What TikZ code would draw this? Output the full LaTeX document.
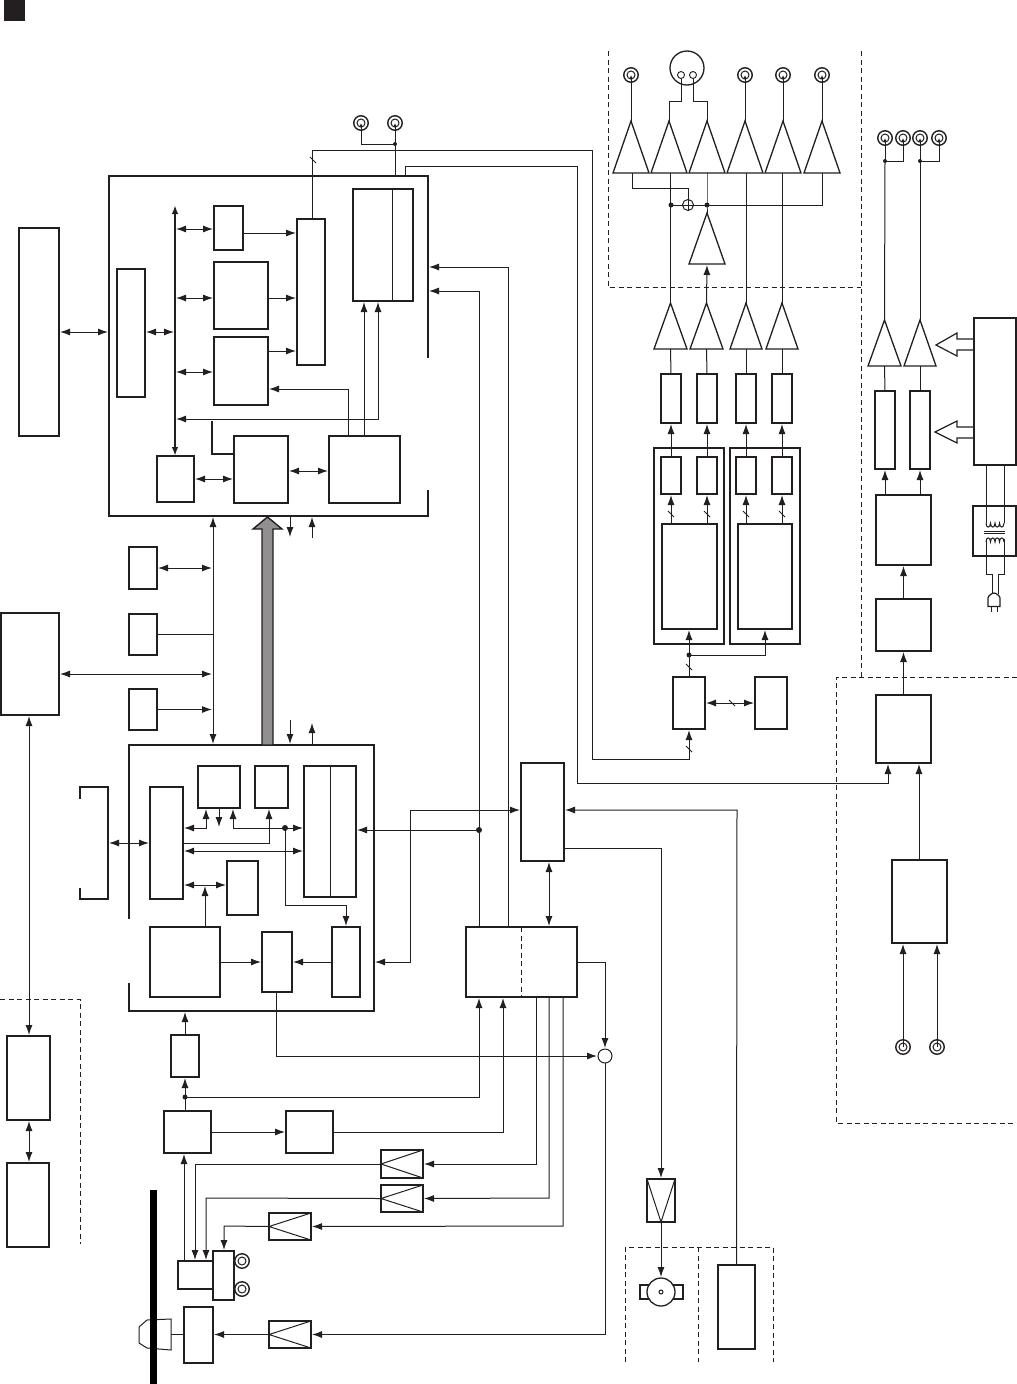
\documentclass[tikz,border=0pt]{standalone}
\usetikzlibrary{arrows.meta}
\definecolor{ink}{HTML}{231F20}
\tikzset{
  ln/.style={line width=1pt,draw=ink},
  ar/.style={ln,-{Latex[length=10pt,width=7pt]},shorten >=1pt},
  ra/.style={ln,{Latex[length=10pt,width=7pt]}-,shorten <=1pt},
  db/.style={ln,{Latex[length=10pt,width=7pt]}-{Latex[length=10pt,width=7pt]},shorten >=1pt,shorten <=1pt},
  tk/.style={draw=ink,line width=1.8pt,inner sep=0pt,outer sep=0pt},
  tn/.style={draw=ink,line width=1.2pt,inner sep=0pt,outer sep=0pt},
  gh/.style={inner sep=0pt,outer sep=0pt},
  dsh/.style={draw=ink,line width=.9pt,dash pattern=on 5pt off 3.5pt},
  outl/.style={draw=ink,line width=2pt,line join=miter},
  dotn/.style={circle,fill=ink,inner sep=0pt,outer sep=0pt,minimum size=5pt},
  jk/.style={circle,draw=ink,line width=1.4pt,inner sep=0pt,outer sep=0pt,minimum size=14.5pt},
  tipsm/.style={ln,-{Latex[length=4pt,width=3.5pt]}},
  tri/.style={draw=ink,line width=1.3pt,line join=miter},
}
\newcommand{\mybox}[6][tk]{\node[#1,minimum width={(#5-#3)*1pt},minimum height={(#6-#4)*1pt}] (#2) at ({(#3+#5)/2},{(#4+#6)/2}) {};}
\newcommand{\ampl}[5]{\node[gh,minimum width={(#4-#2)*1pt},minimum height={(#5-#3)*1pt}] (#1) at ({(#2+#4)/2},{(#3+#5)/2}) {};
  \draw[tri] (#1.north) -- (#1.south east) -- (#1.south west) -- cycle;}
\newcommand{\jackn}[3]{\node[jk] (#1) at (#2,#3) {}; \draw[ink,line width=1pt] (#1.center) circle[radius=4];}
\newcommand{\trileft}[5]{\mybox[tn]{#1}{#2}{#3}{#4}{#5}
  \draw[ln] (#1.north east) -- (#1.west) -- (#1.south east);}
\newcommand{\slashmk}[2]{\draw[ln] ({#1-3},{#2-3}) -- ({#1+3},{#2+3});}
\begin{document}
\begin{tikzpicture}[x=1pt,y=-1pt]
\useasboundingbox (0,0) rectangle (1017,1384);
\fill[white] (0,0) rectangle (1017,1384);
\fill[ink] (4,0) rectangle (25,21);

% ---------- upper processor block
\node[gh,minimum width=319pt,minimum height=340pt] (U) at (268.5,346) {};
\draw[outl] (428,358) -- (U.north east) -- (U.north west) -- (U.south west) -- (U.south east) -- (428,490);
\coordinate (bus) at (175,0);
\mybox{L1}{19}{228}{59}{436}
\mybox{A}{117}{269}{145}{397}
\mybox{B1}{214}{206}{243}{250}
\mybox{B2}{214}{262}{268}{329}
\mybox{B3}{214}{337}{268}{405}
\mybox{C}{297}{219}{325}{365}
\mybox{D}{353}{189}{413}{301}
\draw[ln] (392,189) -- (392,301);
\mybox{E}{157}{456}{194}{502}
\mybox{F}{234}{436}{288}{503}
\mybox{G}{329}{436}{400}{503}
\draw[db] (L1.east |- 0,332) -- (U.west |- 0,332);
\draw[db] (A.east |- 0,332) -- (bus |- 0,332);
\coordinate (bt) at (175,205);
\draw[ln,line width=2pt,{Latex[length=9pt,width=6.5pt]}-{Latex[length=9pt,width=6.5pt]}] (bt) -- (bus |- E.north);
\draw[db] (bus |- 0,229) -- (B1.west |- 0,229);
\draw[db] (bus |- 0,298) -- (B2.west |- 0,298);
\draw[db] (bus |- 0,372) -- (B3.west |- 0,372);
\draw[ar] (B1.east |- 0,233) -- (C.west |- 0,233);
\draw[ar] (B2.east |- 0,298) -- (C.west |- 0,298);
\draw[ar] (B3.east |- 0,351) -- (C.west |- 0,351);
\draw[ar] (G.north -| 348,0) -- (348,389) -- (B3.east |- 0,389);
\draw[ar] (G.north -| 364,0) -- (D.south -| 364,0);
\draw[db] (bus |- 0,419) -- (378,419) -- (D.south -| 378,0);
\draw[ln,line width=1.4pt] (F.west |- 0,454) -- (212,454) -- (212,421);
\draw[db] (E.east |- 0,479) -- (F.west |- 0,479);
\draw[db] (F.east |- 0,471) -- (G.west |- 0,471);

% ---------- connectors on top of the upper block
\jackn{J1}{361}{123}
\jackn{J2}{395}{123}
\node[dotn,minimum size=4pt] (jd) at (395,144) {};
\draw[tipsm] (361,144) -- (J1.center);
\draw[tipsm] (jd.center) -- (J2.center);
\draw[ln] (J1.center |- jd.center) -- (jd.center) -- (U.north -| 395,0);
\slashmk{313}{160}

% ---------- bus between the two blocks
\node[gh,minimum width=245pt,minimum height=266pt] (V) at (251.5,878) {};
\draw[outl] (129,919) -- (V.north west) -- (V.north east) -- (V.south east) -- (V.south west) -- (129,983);
\coordinate (vb) at (213,0);
\draw[db] (U.south -| vb) -- (V.north -| vb);
\mybox{K1}{129}{547}{157}{589}
\mybox[tn]{K2}{129}{614}{157}{655}
\mybox{LL}{1}{613}{59}{715}
\mybox{K3}{129}{689}{157}{730}
\draw[db] (K1.east) -- (vb |- K1.east);
\draw[ln] (K2.east) -- (vb |- K2.east);
\draw[db] (LL.east |- 0,674) -- (vb |- 0,674);
\draw[ar] (K3.east) -- (vb |- K3.east);
\filldraw[fill=ink!50,draw=ink,line width=1.4pt,line join=miter] (262,745) -- (262,529) -- (253,529) -- (267.5,517) -- (282,529) -- (273,529) -- (273,745) -- cycle;
\coordinate (f1) at (290,538);
\coordinate (f2) at (312,538);
\coordinate (f3) at (290,720);
\coordinate (f4) at (312,722);
\draw[ar] (U.south -| f1) -- (f1);
\draw[ar] (f2) -- (U.south -| f2);
\draw[ar] (f3) -- (V.north -| f3);
\draw[ar] (V.north -| f4) -- (f4);

% ---------- lower processor block
\draw[ln,line width=1.8pt] (80,799) -- (80,787) -- (108,787) -- (108,899) -- (80,899) -- (80,888);
\coordinate (brk) at (108,843);
\mybox{M}{150}{787}{183}{899}
\mybox{N}{198}{766}{240}{808}
\mybox{O}{255}{766}{288}{808}
\mybox{P}{304}{766}{356}{897}
\draw[ln] (330,766) -- (330,897);
\mybox{Q}{227}{861}{258}{915}
\mybox{R}{150}{927}{220}{997}
\mybox[tn]{S}{262}{932}{292}{992}
\mybox{T}{332}{927}{360}{997}
\draw[db] (brk) -- (M.west |- brk);
\node[dotn,minimum size=6pt] (d2) at (285,828) {};
\draw[db] (M.east |- 0,828) -- (206,828) -- (N.south -| 206,0);
\draw[ar] (N.south -| 219,0) -- (219,828);
\draw[ar] (d2.center) -- (233,828) -- (N.south -| 233,0);
\draw[ar] (d2.center) -- (P.west |- d2.center);
\draw[ar] (M.east |- 0,843) -- (269,843) -- (O.south -| 269,0);
\draw[db] (M.east |- 0,851) -- (P.west |- 0,851);
\draw[db] (M.east |- 0,885) -- (Q.west |- 0,885);
\draw[ar] (R.north -| 205,0) -- (205,885);
\draw[ar] (d2.center) -- (285,905) -- (346,905) -- (T.north -| 346,0);
\draw[ar] (R.east |- S.west) -- (S.west);
\draw[ar] (T.west |- S.east) -- (S.east);

% ---------- centre controller
\mybox{X}{521}{763}{564}{861}
\mybox{Y}{466}{927}{577}{997}
\draw[dsh] (521,927) -- (521,997);
\node[dotn,minimum size=6pt] (d3) at (479,830) {};
\draw[ar] (d3.center) -- (P.east |- d3.center);
\draw[ar] (Y.north -| d3) -- (479,291) -- (U.east |- 0,291);
\draw[ar] (Y.north -| 508,0) -- (508,267) -- (U.east |- 0,267);
\draw[db] (X.west |- 0,810) -- (410,810) -- (410,962) -- (V.east |- 0,962);
\draw[db] (X.south -| 549,0) -- (Y.north -| 549,0);

% ---------- lower left drive section
\mybox{SM}{171}{1035}{199}{1077}
\mybox{BB}{164}{1111}{211}{1153}
\mybox{CC}{286}{1111}{333}{1153}
\trileft{TA}{381}{1150}{423}{1178}
\trileft{TB}{381}{1185}{423}{1212}
\trileft{TC}{269}{1213}{311}{1240}
\trileft{TD}{269}{1321}{311}{1348}
\mybox[tn]{H1}{178}{1261}{213}{1289}
\mybox{H2}{213}{1251}{234}{1300}
\jackn{J3}{242}{1261}
\jackn{J4}{242}{1289}
\mybox{LB}{184}{1307}{213}{1363}
\node[dotn] (d4) at (185,1097) {};
\draw[ar] (SM.north) -- (V.south -| SM.north);
\draw[ar] (BB.north -| d4) -- (SM.south -| d4);
\draw[ar] (d4.center) -- (479,1097) -- (Y.south -| 479,0);
\draw[ar] (BB.east |- CC.west) -- (CC.west);
\draw[ar] (CC.east) -- (503,1132) -- (Y.south -| 503,0);
\draw[ar] (Y.south -| 536,0) -- (536,1164) -- (TA.east);
\draw[ar] (Y.south -| 549,0) -- (549,1198) -- (TB.east);
\draw[ar] (Y.south -| 563,0) -- (563,1226) -- (TC.east);
\draw[ar] (TA.west) -- (195,1164) -- (H1.north -| 195,0);
\draw[ar] (TB.west) -- (206,1198) -- (H1.north -| 206,0);
\draw[ar] (TC.west) -- (224,1226) -- (H2.north -| 224,0);
\draw[ar] (H1.north -| 184,0) -- (BB.south -| 184,0);
\node[circle,draw=ink,line width=1pt,inner sep=0pt,outer sep=0pt,minimum size=14pt] (CIR) at (605,1056) {};
\draw[ar] (Y.east |- 0,962) -- (605,962) -- (CIR.north);
\draw[ar] (S.south -| 276,0) -- (276,1056) -- (CIR.west);
\draw[ar] (CIR.south) -- (605,1334.5) -- (TD.east);
\draw[ar] (TD.west) -- (LB.east |- TD.west);
\coordinate (lens) at (171,1334);
\draw[ln] (147,1320) -- (171,1319) -- (171,1350) -- (147,1348) -- (139,1343) -- (139,1327) -- cycle;
\draw[ln] (lens) -- (LB.west |- lens);
\fill[black] (150,1190) rectangle (157,1384);

% ---------- spindle and memory
\node[gh,minimum width=28pt,minimum height=43pt] (TM) at (661,1200.5) {};
\draw[tn,line width=1.6pt] (TM.north west) rectangle (TM.south east);
\draw[ln] (TM.north west) -- (TM.south) -- (TM.north east);
\mybox[tn]{SL}{640}{1285}{650}{1299}
\mybox[tn]{SR}{672}{1285}{683}{1299}
\node[circle,draw=ink,fill=white,line width=1.3pt,inner sep=0pt,outer sep=0pt,minimum size=28pt] (MOT) at (661,1292) {};
\draw[ink,line width=1pt] (MOT.center) circle[radius=2];
\mybox{MEM}{718}{1265}{755}{1349}
\draw[ar] (TM.south) -- (MOT.north);
\draw[ar] (X.east |- 0,848) -- (661,848) -- (TM.north);
\draw[ar] (MEM.north) -- (737,810) -- (X.east |- 0,810);
\draw[dsh] (625,1362) -- (625,1247) -- (773,1247) -- (773,1362);
\draw[dsh] (698,1247) -- (698,1362);

% ---------- lower left dashed part
\mybox{W1}{7}{1036}{50}{1120}
\mybox{W2}{7}{1163}{49}{1247}
\draw[db] (LL.south -| 29,0) -- (W1.north -| 29,0);
\draw[db] (W1.south -| 29,0) -- (W2.north -| 29,0);
\draw[dsh] (0,999) -- (80,999) -- (80,1244);

% ---------- audio output section
\draw[dsh] (608,51) -- (608,287) -- (861,287);
\draw[dsh] (861,51) -- (861,677);
\jackn{JA}{631}{75}
\jackn{JB}{745}{75}
\jackn{JC}{783}{75}
\jackn{JD}{822}{75}
\node[circle,draw=ink,line width=1.3pt,inner sep=0pt,outer sep=0pt,minimum size=34pt] (XLR) at (687,68) {};
\node[circle,draw=ink,line width=.9pt,inner sep=0pt,outer sep=0pt,minimum size=7pt] (XL) at (681,75) {};
\node[circle,draw=ink,line width=.9pt,inner sep=0pt,outer sep=0pt,minimum size=7pt] (XR) at (693,75) {};
\ampl{T1}{613}{121}{649}{173}
\ampl{T2}{651}{121}{687}{173}
\ampl{T3}{689}{121}{725}{173}
\ampl{T4}{727}{121}{763}{173}
\ampl{T5}{765}{121}{801}{173}
\ampl{T6}{804}{121}{840}{173}
\ampl{T7}{689}{213}{725}{264}
\draw[tipsm] (T1.north) -- (JA.center);
\draw[tipsm] (T4.north) -- (JB.center);
\draw[tipsm] (T5.north) -- (JC.center);
\draw[tipsm] (T6.north) -- (JD.center);
\draw[ln] (XL.south) -- (681,101) -- (669,101) -- (T2.north);
\draw[ln] (XR.south) -- (693,101) -- (T3.north |- 0,101) -- (T3.north);
\node[circle,draw=ink,line width=1pt,inner sep=0pt,outer sep=0pt,minimum size=11pt] (SUM) at (688,205) {};
\draw[ln] (SUM.north) -- (SUM.south) (SUM.west) -- (SUM.east);
\node[dotn] (d5) at (671,205) {};
\node[dotn] (d6) at (707,205) {};
\draw[ln] (T1.south -| 632,0) -- (632,188) -- (SUM.north |- 0,188) -- (SUM.north);
\draw[ln] (d5.center) -- (SUM.west);
\draw[ln] (SUM.east) -- (d6.center);
\draw[ln] (d6.center) -- (T6.south |- d6.center) -- (T6.south);
\draw[ln] (T3.south) -- (d6.center) -- (T7.north);
\ampl{A1}{654}{303}{687}{349}
\ampl{A2}{690}{303}{723}{349}
\ampl{A3}{730}{303}{762}{349}
\ampl{A4}{766}{303}{798}{349}
\draw[ln] (T2.south -| A1.north) -- (A1.north);
\draw[ln] (T4.south -| A3.north) -- (A3.north);
\draw[ln] (T5.south -| A4.north) -- (A4.north);
\draw[ar] (A2.north) -- (T7.south);
\mybox{F1}{661}{374}{681}{423}
\mybox{F2}{697}{374}{717}{423}
\mybox{F3}{736}{374}{756}{423}
\mybox{F4}{772}{374}{792}{423}
\mybox{G1}{654}{448}{724}{644}
\mybox{G2}{730}{448}{800}{644}
\mybox{S1}{661}{457}{681}{494}
\mybox{S2}{697}{457}{717}{494}
\mybox{S3}{736}{457}{756}{494}
\mybox{S4}{772}{457}{792}{494}
\mybox{H3}{662}{524}{717}{629}
\mybox{H4}{738}{524}{792}{629}
\mybox[tn]{SW}{673}{677}{705}{729}
\mybox{RM}{755}{677}{787}{729}
\foreach \n/\m/\a in {1/3/A1,2/3/A2,3/4/A3,4/4/A4}{
  \draw[ln] (F\n.north) -- (\a.south);
  \draw[ar] (S\n.north) -- (F\n.south);
  \draw[ar] (H\m.north -| S\n.south) -- (S\n.south);
  \path (S\n.south) ++(0,20) coordinate (sl\n);
  \draw[ln] ([shift={(-3,-3)}]sl\n) -- ([shift={(3,3)}]sl\n);
}
\node[dotn] (d7) at (689,655) {};
\draw[ln] (SW.north -| d7) -- (d7.center);
\draw[ar] (d7.center) -- (H3.south -| d7);
\draw[ar] (d7.center) -- (765,655) -- (H4.south -| 765,0);
\slashmk{689}{667}
\draw[db] (SW.east |- 0,703) -- (RM.west |- 0,703);
\slashmk{732}{703}
\slashmk{689}{749}
\draw[ar] (C.north -| 312,0) -- (312,150) -- (592.5,150) -- (592.5,759) -- (689,759) -- (SW.south);

% ---------- power amplifier section
\mybox{HV}{876}{695}{931}{763}
\mybox{PA}{876}{599}{931}{651}
\mybox[tn]{PB}{876}{495}{931}{565}
\mybox{PC}{875}{391}{895}{469}
\mybox{PD}{910}{391}{930}{469}
\ampl{PT1}{868}{320}{901}{366}
\ampl{PT2}{904}{320}{936}{366}
\jackn{K5}{885}{138}
\jackn{K6}{903}{138}
\jackn{K7}{920}{138}
\jackn{K8}{939}{138}
\node[dotn,minimum size=4pt] (e1) at (885,161) {};
\node[dotn,minimum size=4pt] (e2) at (920,161) {};
\draw[tipsm] (e1.center) -- (K5.center);
\draw[tipsm] (e2.center) -- (K7.center);
\draw[tipsm] (e1.center) -- (903,161) -- (K6.center);
\draw[tipsm] (e2.center) -- (939,161) -- (K8.center);
\draw[ln] (PT1.north) -- (e1.center);
\draw[ln] (PT2.north) -- (e2.center);
\draw[ln] (PC.north) -- (PT1.south);
\draw[ln] (PD.north) -- (PT2.south);
\draw[ar] (PB.north -| PC.south) -- (PC.south);
\draw[ar] (PB.north -| PD.south) -- (PD.south);
\draw[ar] (PA.north) -- (PB.south);
\draw[ar] (HV.north) -- (PA.south);
\draw[ar] (U.north -| 405,0) -- (405,166) -- (577,166) -- (577,783) -- (888,783) -- (HV.south -| 888,0);
\mybox{CD}{892}{860}{947}{943}
\jackn{K9}{903}{1047}
\jackn{K10}{937}{1047}
\draw[ar] (CD.north -| 919,0) -- (HV.south -| 919,0);
\draw[ar] (K9.center) -- (CD.south -| K9.north);
\draw[ar] (K10.center) -- (CD.south -| K10.north);
\draw[dsh] (1017,677) -- (836,677) -- (836,1123) -- (1017,1123);

% ---------- power supply
\mybox{PW}{974}{318}{1016}{465}
\mybox[tn]{TR}{973}{506}{1016}{556}
\draw[tn] (PW.west |- 0,339) -- (957,339) -- (957,333) -- (936,345) -- (957,356) -- (957,350) -- (PW.west |- 0,350);
\draw[tn] (PW.west |- 0,427) -- (957,427) -- (957,421) -- (935,432) -- (957,443) -- (957,438) -- (PW.west |- 0,438);
\draw[ln] (PW.south -| 986,0) -- (986,523);
\draw[ln] (PW.south -| 1004,0) -- (1004,523);
\draw[ln] (986,523) \foreach \c in {0,1,2,3}{ .. controls ({986+\c*4.5},528.5) and ({990.5+\c*4.5},528.5) .. ({990.5+\c*4.5},523)};
\draw[ln] (986,542) \foreach \c in {0,1,2,3}{ .. controls ({986+\c*4.5},536.5) and ({990.5+\c*4.5},536.5) .. ({990.5+\c*4.5},542)};
\draw[ln] (984,531) -- (1005,531) (984,533) -- (1005,533);
\draw[ln] (986,539) -- (986,574) -- (992,574) -- (992,594);
\draw[ln] (1004,539) -- (1004,574) -- (998,574) -- (998,594);
\node[gh,minimum width=12pt,minimum height=13pt] (PLG) at (994,600) {};
\draw[ln,line width=1.2pt] (PLG.south west) -- (988,598) .. controls (988,596) and (992,593) .. (994,593) .. controls (996,593) and (1000,596) .. (1000,598) -- (PLG.south east) -- cycle;
\draw[ln] (991,606.5) -- (991,612) (997,606.5) -- (997,612);
\end{tikzpicture}
\end{document}
